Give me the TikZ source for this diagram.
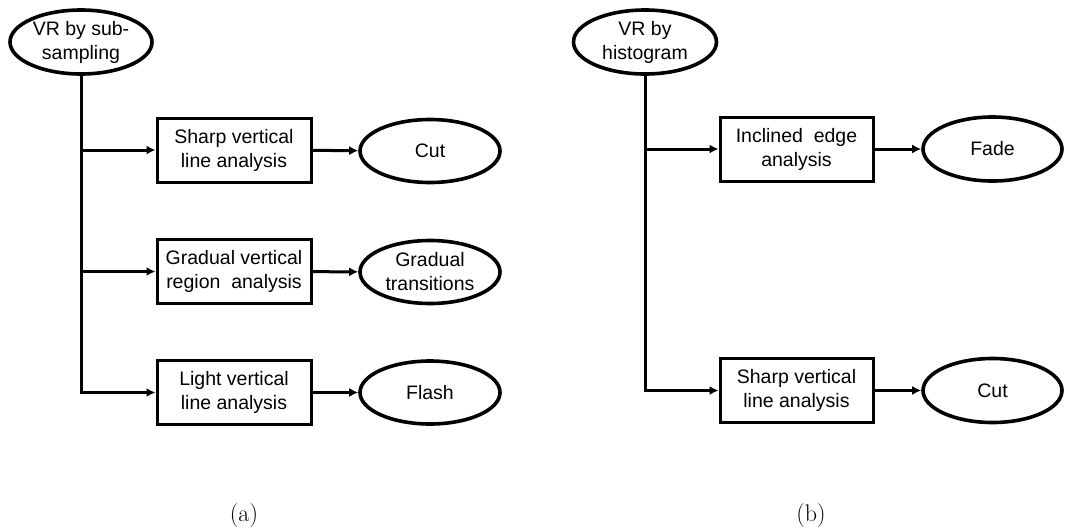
\documentclass[tikz,border=0pt]{standalone}
\usepackage{fontspec}
\setmainfont{Liberation Sans}
\newfontfamily\capfont{Latin Modern Roman}
\usetikzlibrary{shapes.geometric,arrows.meta}
\tikzset{
  diag/.style={x=1pt,y=-1pt},
  txt/.style={font=\fontsize{19.5}{24}\selectfont, align=center, inner sep=0pt},
  procbox/.style={txt, draw, line width=3pt, rectangle, minimum width=153pt, minimum height=64pt},
  oval/.style={txt, draw, line width=3.6pt, ellipse, minimum width=140pt, minimum height=63pt},
  conn/.style={line width=3pt},
  arr/.style={conn, -{Latex[length=9pt,width=9pt]}},
  caplabel/.style={font=\capfont\fontsize{24}{28}\selectfont, inner sep=0pt}
}
\begin{document}
\begin{tikzpicture}[diag]
\useasboundingbox (0,0) rectangle (1066,531);
% (a)
\node[oval, minimum width=142pt, minimum height=64pt] (ra) at (81,42) {VR by sub-\\sampling};
\node[procbox, minimum width=154pt] (a1) at (234,150) {Sharp vertical\\line analysis};
\node[procbox, minimum width=154pt] (a2) at (234,271.5) {Gradual vertical\\region\ \ analysis};
\node[procbox, minimum width=154pt] (a3) at (234,392.5) {Light vertical\\line analysis};
\node[oval] (e1) at (430,151) {Cut};
\node[oval] (e2) at (430,272) {Gradual\\transitions};
\node[oval] (e3) at (430,392.5) {Flash};
\coordinate (ja1) at (ra.south |- a1.west);
\coordinate (ja2) at (ra.south |- a2.west);
\draw[arr] (ra.south) |- (a3.west);
\draw[arr] (ja1) -- (a1.west);
\draw[arr] (ja2) -- (a2.west);
\draw[arr] (a1) -- (e1);
\draw[arr] (a2) -- (e2);
\draw[arr] (a3) -- (e3);
\node[caplabel] (capa) at (244,516) {(a)};
% (b)
\node[oval, minimum width=143pt, minimum height=64pt] (rb) at (645,42) {VR by\\histogram};
\node[procbox] (b1) at (796.5,149) {Inclined\ \ edge\\analysis};
\node[procbox] (b2) at (796.5,390.5) {Sharp vertical\\line analysis};
\node[oval, minimum width=139pt, minimum height=64pt] (f1) at (992.5,149) {Fade};
\node[oval, minimum width=139pt, minimum height=64pt] (f2) at (992.5,390.5) {Cut};
\coordinate (jb1) at (rb.south |- b1.west);
\draw[arr] (rb.south) |- (b2.west);
\draw[arr] (jb1) -- (b1.west);
\draw[arr] (b1) -- (f1);
\draw[arr] (b2) -- (f2);
\node[caplabel] (capb) at (811,516) {(b)};
\end{tikzpicture}
\end{document}
